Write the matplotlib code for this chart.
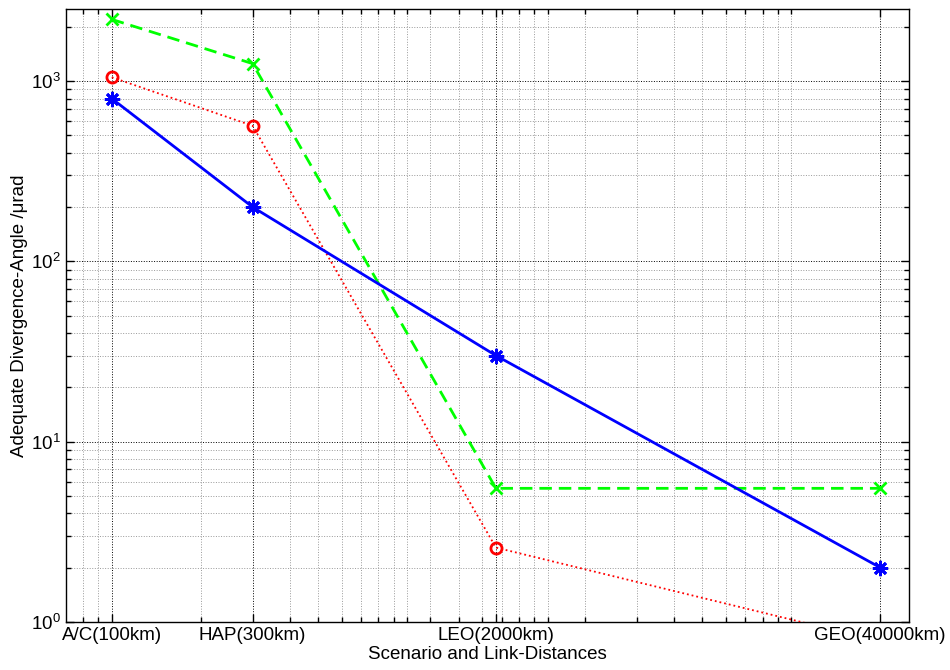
import matplotlib
matplotlib.use("Agg")
import matplotlib.pyplot as plt
from matplotlib.ticker import FixedLocator, NullFormatter, LogLocator

plt.rcParams['font.family'] = ['Liberation Sans', 'DejaVu Sans']
plt.rcParams['mathtext.fontset'] = 'custom'
plt.rcParams['mathtext.rm'] = 'Liberation Sans'

distances = [100, 300, 2000, 40000]
tick_labels = ['A/C(100km)', 'HAP(300km)', 'LEO(2000km)', 'GEO(40000km)']
blue_vals = [800, 200, 30, 2.0]
red_vals = [1050, 565, 2.58, 0.78]
green_vals = [2200, 1250, 5.5, 5.5]
x_minor = [80, 90, 200, 400, 500, 600, 700, 800, 900, 1000, 1200, 1500, 1800,
           2100, 2400, 2700, 3000, 4000, 6000, 8000, 10000, 12000, 14000,
           16000, 18000, 20000]

fig = plt.figure(figsize=(9.5, 6.7), dpi=100)
ax = fig.add_axes([0.0695, 0.072, 0.887, 0.914])

ax.plot(distances, blue_vals, color='#0000ff', linestyle='-', linewidth=2,
        marker=(8, 2, 0), markersize=11, markeredgewidth=2, zorder=5)
ax.plot(distances, red_vals, color='#ff0000', linestyle=':', linewidth=1.3,
        marker='o', markersize=8, markerfacecolor='none', markeredgewidth=2, zorder=4)
ax.plot(distances, green_vals, color='#00ff00', linestyle='--', linewidth=2,
        dashes=(4.5, 2.5), marker='x', markersize=8, markeredgewidth=2, zorder=4)

ax.set_xscale('log')
ax.set_yscale('log')
ax.set_xlim(70, 50000)
ax.set_ylim(1, 2500)

ax.xaxis.set_major_locator(FixedLocator(distances))
ax.set_xticklabels(tick_labels)
ax.xaxis.set_minor_locator(FixedLocator(x_minor))
ax.xaxis.set_minor_formatter(NullFormatter())
ax.yaxis.set_major_locator(LogLocator(base=10))
ax.yaxis.set_minor_locator(LogLocator(base=10, subs=range(2, 10)))
ax.yaxis.set_minor_formatter(NullFormatter())

ax.grid(which='major', linestyle=':', color='black', linewidth=0.7)
ax.grid(which='minor', linestyle=':', color='#999999', linewidth=0.7)

ax.tick_params(which='both', direction='in', top=True, right=True,
               labelsize=13.5, colors='black', pad=4)
ax.tick_params(which='major', length=6, width=1)
ax.tick_params(which='minor', length=3.5, width=1)
for s in ax.spines.values():
    s.set_linewidth(1)
    s.set_color('black')

ax.set_xlabel('Scenario and Link-Distances', fontsize=13.5, labelpad=1)
ax.set_ylabel('Adequate Divergence-Angle /μrad', fontsize=13.5, labelpad=2)

fig.savefig('out.png', dpi=100)
